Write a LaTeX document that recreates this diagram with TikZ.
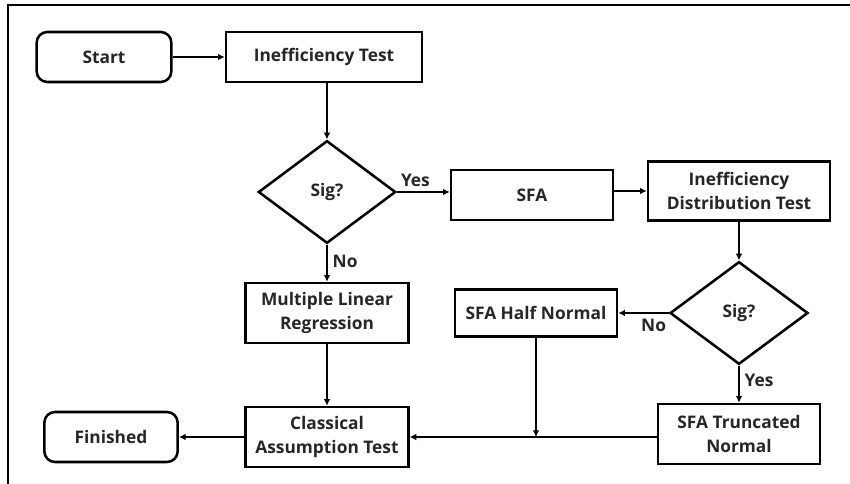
\documentclass[tikz,border=0pt]{standalone}
\usepackage{fontspec}
\setmainfont{Open Sans}
\usetikzlibrary{shapes.geometric,arrows.meta}

\tikzset{
    box/.style={draw, line width=1.9pt, align=center, inner sep=2pt, font=\bfseries\fontsize{13}{18}\selectfont, text=black!85},
    term/.style={box, rounded corners=8pt},
    decide/.style={draw, diamond, line width=1.9pt, inner sep=0pt, font=\bfseries\fontsize{13}{18}\selectfont, text=black!85},
    arr/.style={line width=1.9pt, -{Latex[length=5pt,width=5pt]}},
    lbl/.style={font=\bfseries\fontsize{13}{18}\selectfont, text=black!85}
}

\begin{document}
\begin{tikzpicture}[x=0.75pt,y=-0.75pt]
    \useasboundingbox (0,0) rectangle (850,484);
    \draw[line width=1.6pt] (8,484) -- (8,5) -- (850,5);

    % upper row
    \node[term, minimum width=101pt, minimum height=37.5pt] (start) at (104,57) {Start};
    \node[box, minimum width=147pt, minimum height=37.5pt] (ineff) at (324,57) {Inefficiency Test};
    \node[decide, minimum width=103pt, minimum height=77pt] (sig1) at (327,192) {Sig?};
    \node[box, minimum width=121.5pt, minimum height=37.5pt] (sfa) at (532,195) {SFA};
    \node[box, minimum width=136.5pt, minimum height=44pt] (idt) at (739,191) {Inefficiency\\Distribution Test};
    \node[decide, minimum width=103.5pt, minimum height=77pt] (sig2) at (739,313) {Sig?};

    % lower rows
    \node[box, minimum width=122pt, minimum height=45pt] (mlr) at (327,313) {Multiple Linear\\Regression};
    \node[box, minimum width=121.5pt, minimum height=35pt] (shn) at (536,313) {SFA Half Normal};
    \node[box, minimum width=121.5pt, minimum height=45pt] (stn) at (739,434) {SFA Truncated\\Normal};
    \node[box, minimum width=122pt, minimum height=45pt] (cat) at (327,437) {Classical\\Assumption Test};
    \node[term, minimum width=100pt, minimum height=37.5pt] (fin) at (111,437) {Finished};
    \coordinate (join) at (shn.south |- cat.east);

    \draw[arr] (start) -- (ineff);
    \draw[arr] (ineff.south -| sig1.north) -- (sig1);
    \draw[arr] (sig1) -- node[lbl, above, pos=0.35] {Yes} (sig1.east -| sfa.west);
    \draw[arr] (sig1) -- node[lbl, right, pos=0.45] {No} (mlr);
    \draw[arr] (sfa.east |- idt.west) -- (idt);
    \draw[arr] (idt) -- (sig2);
    \draw[arr] (sig2) -- node[lbl, below, pos=0.3] {No} (shn);
    \draw[arr] (sig2) -- node[lbl, right, pos=0.4] {Yes} (stn);
    \draw[arr] (mlr) -- (cat);
    \draw[arr] (shn) -- (join);
    \draw[arr] (stn.west |- cat.east) -- (cat);
    \draw[arr] (cat) -- (fin);
\end{tikzpicture}
\end{document}
